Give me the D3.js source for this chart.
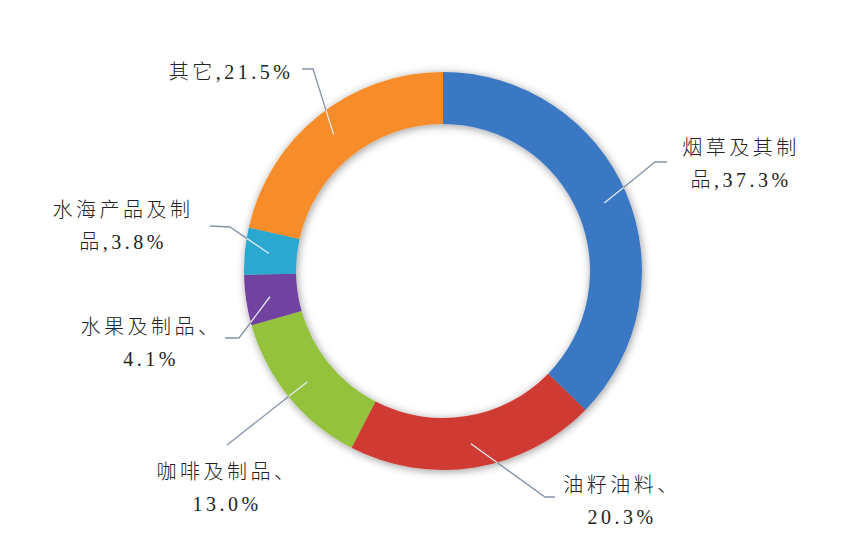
<!DOCTYPE html>
<html><head><meta charset="utf-8">
<script src="https://cdn.jsdelivr.net/npm/d3@7/dist/d3.min.js"></script>
<style>html,body{margin:0;padding:0;background:#fff;}svg{display:block;}</style>
</head><body>
<svg id="chart" width="856" height="554"></svg>
<script>
// ---- data ----
const categories = ["烟草及其制品", "油籽油料", "咖啡及制品", "水果及制品", "水海产品及制品", "其它"];
const values = [37.3, 20.3, 13.0, 4.1, 3.8, 21.5];
const colors = ["#3b78c4", "#cf3a31", "#94c23d", "#7143a0", "#2aa8d0", "#f68d2a"];
// label lines as displayed (name part / value part)
const labelLines = [
  ["烟草及其制", "品,37.3%"],
  ["油籽油料、", "20.3%"],
  ["咖啡及制品、", "13.0%"],
  ["水果及制品、", "4.1%"],
  ["水海产品及制", "品,3.8%"],
  ["其它,21.5%"]
];

// ---- layout ----
const W = 856, H = 554;
const cx = 443, cy = 271, R = 199, r = 147;
// label block centers, elbow & end of leader lines
const layout = [
  {x: 739, y: 148, elbow: [655, 162], end: [667, 162]},
  {x: 620, y: 485, elbow: [545, 497], end: [555, 497]},
  {x: 225, y: 472, elbow: [227, 445], end: [227, 445]},
  {x: 149, y: 327, elbow: [239, 338], end: [225, 338]},
  {x: 121, y: 210, elbow: [230, 227], end: [210, 226]},
  {x: 229, y: 72,  elbow: [313, 69],  end: [302, 69]}
];
const lineGap = 32;

const svg = d3.select("#chart");
const defs = svg.append("defs");
const f = defs.append("filter").attr("id", "sh").attr("x", "-20%").attr("y", "-20%").attr("width", "140%").attr("height", "140%");
f.append("feDropShadow").attr("dx", 1).attr("dy", 1.5).attr("stdDeviation", 4.5)
  .attr("flood-color", "#000").attr("flood-opacity", 0.4);

const data = categories.map((c, i) => ({name: c, value: values[i], color: colors[i], i}));
const pie = d3.pie().value(d => d.value).sort(null);
const arcs = pie(data);
const arc = d3.arc().innerRadius(r).outerRadius(R);

const g = svg.append("g").attr("transform", `translate(${cx},${cy})`);
const ring = g.append("g").attr("filter", "url(#sh)");
ring.selectAll("path").data(arcs).enter().append("path")
  .attr("d", arc).attr("fill", d => d.data.color);

// leader lines
const startR = 175;
arcs.forEach((a, i) => {
  const mid = (a.startAngle + a.endAngle) / 2;
  const sx = cx + startR * Math.sin(mid), sy = cy - startR * Math.cos(mid);
  const L = layout[i];
  const [ex, ey] = L.elbow;
  const dx = ex - sx, dy = ey - sy;
  const px = sx - cx, py = sy - cy;
  const A = dx*dx + dy*dy, B = 2*(px*dx + py*dy), C = px*px + py*py - R*R;
  const t = (-B + Math.sqrt(B*B - 4*A*C)) / (2*A);
  const ix = sx + t*dx, iy = sy + t*dy;
  svg.append("line").attr("x1", sx).attr("y1", sy).attr("x2", ix).attr("y2", iy)
    .attr("stroke", "#e4ebf3").attr("stroke-width", 1.3);
  svg.append("path")
    .attr("d", `M${ix},${iy}L${ex},${ey}L${L.end[0]},${L.end[1]}`)
    .attr("fill", "none").attr("stroke", "#8393a8").attr("stroke-width", 1.3);
});

// labels
labelLines.forEach((lines, i) => {
  const L = layout[i];
  const t = svg.append("text")
    .attr("text-anchor", "middle")
    .attr("font-family", "'Liberation Serif', 'Noto Sans CJK SC', serif")
    .attr("font-size", 20)
    .attr("font-weight", 300)
    .attr("fill", "#222");
  lines.forEach((s, k) => {
    t.append("tspan").attr("x", L.x + 2).attr("y", L.y + 7 + k * lineGap)
      .attr("letter-spacing", 3.5).text(s);
  });
});
</script>
</body></html>
